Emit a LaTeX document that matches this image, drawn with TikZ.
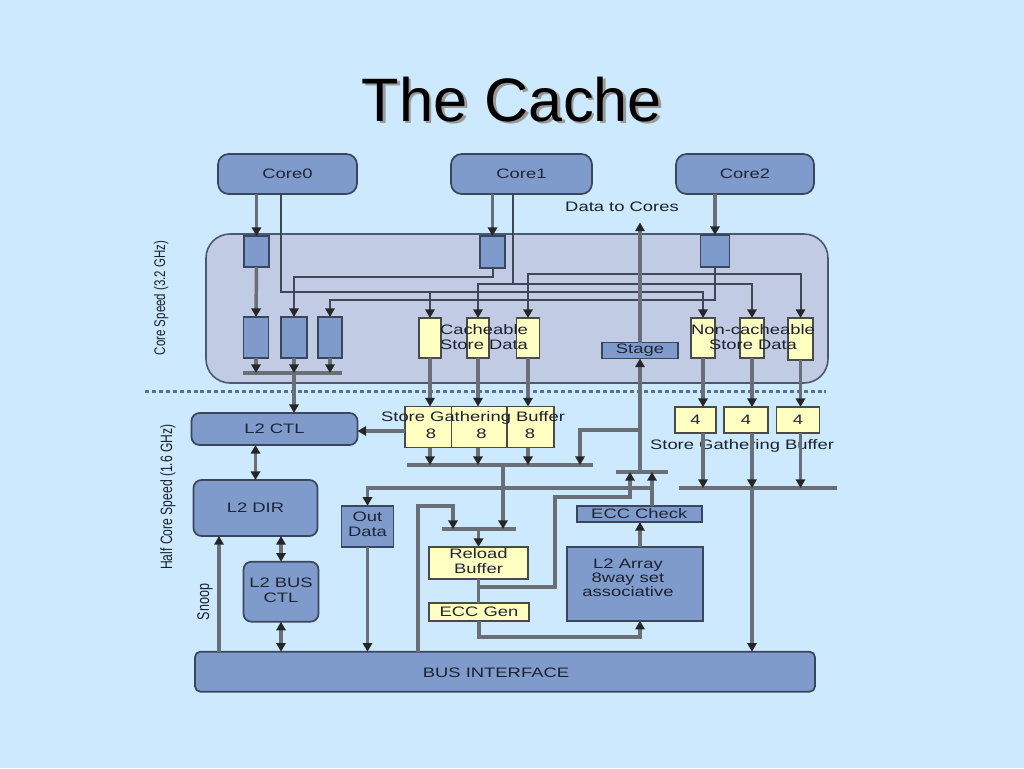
\documentclass[tikz,border=0pt]{standalone}
\usepackage{fontspec}
\usepackage{graphicx}
\setmainfont{Liberation Sans}
\usetikzlibrary{arrows.meta}
\definecolor{bg}{HTML}{CCE9FE}
\definecolor{boxblue}{HTML}{7F9BCC}
\definecolor{boxedge}{HTML}{3A465E}
\definecolor{regfill}{HTML}{C1CBE3}
\definecolor{regedge}{HTML}{4E586C}
\definecolor{yfill}{HTML}{FFFFC2}
\definecolor{yedge}{HTML}{4A4A4A}
\definecolor{wireA}{HTML}{3F4757}
\definecolor{wireB}{HTML}{6A6F77}
\definecolor{txt}{HTML}{1E2533}
\definecolor{dashc}{HTML}{5E7090}
\newcommand\sx[1]{\scalebox{1.34}[1]{#1}}
\newcommand\tl[1]{\sx{\begin{tabular}{@{}c@{}}#1\end{tabular}}}
\begin{document}
\begin{tikzpicture}[x=0.75pt,y=-0.75pt,
  >={Triangle[width=7pt,length=6.5pt,color=black!85]},
  wh/.style 2 args={minimum width=#1*0.75pt, minimum height=#2*0.75pt},
  bfont/.style={font=\fontsize{10.3}{11.25}\selectfont},
  bluebox/.style={draw=boxedge, fill=boxblue, line width=1.3pt, inner sep=0pt, outer sep=0pt, text=txt, bfont},
  rbox/.style={bluebox, rounded corners=6pt},
  ybox/.style={draw=yedge, fill=yfill, line width=1.3pt, inner sep=0pt, outer sep=0pt, text=txt, bfont},
  lbl/.style={inner sep=0pt, text=txt!90!black, bfont},
  wa/.style={draw=wireA, line width=1.5pt},
  wb/.style={draw=wireB, line width=2.6pt},
  bar/.style={draw=wireB, line width=2.4pt}
]
\fill[bg] (0,0) rectangle (1024,768);
\useasboundingbox (0,0) rectangle (1024,768);

% title
\node[text=black!40, font=\fontsize{46}{50}\selectfont, anchor=base, inner sep=0pt] (titleshadow) at (514.5,123.5) {The Cache};
\node[text=black, font=\fontsize{46}{50}\selectfont, anchor=base, inner sep=0pt] (title) at (512,121) {The Cache};

% core speed region
\node[draw=regedge, fill=regfill, line width=1.2pt, rounded corners=18pt, inner sep=0pt, wh={622}{149}] (creg) at (517,308.5) {};

% dashed divider
\coordinate (d1) at (145,391.5);
\coordinate (d2) at (826,391.5);
\draw[draw=dashc, line width=1.6pt, dash pattern=on 3pt off 2.2pt] (d1) -- (d2);

% cores
\node[rbox, rounded corners=8pt, wh={139}{40}] (core0) at (287.5,174) {\sx{Core0}};
\node[rbox, rounded corners=8pt, wh={141}{40}] (core1) at (521.5,174) {\sx{Core1}};
\node[rbox, rounded corners=8pt, wh={138}{40}] (core2) at (745,174) {\sx{Core2}};

% buffers
\node[bluebox, wh={25}{31}] (buf0) at (256.5,251.5) {};
\node[bluebox, wh={25}{32}] (buf1) at (492.5,252) {};
\node[bluebox, wh={29}{32}] (buf2) at (715,251) {};

\node[bluebox, wh={25}{41}] (b1) at (256,337.5) {};
\node[bluebox, wh={26}{41}] (b2) at (294,337.5) {};
\node[bluebox, wh={24}{41}] (b3) at (330,337.5) {};

\node[ybox, wh={22}{40}] (y1) at (430,338) {};
\node[ybox, wh={22}{40}] (y2) at (478,338) {};
\node[ybox, wh={23}{40}] (y3) at (528,338) {};

\node[ybox, wh={24}{40}] (n1) at (703,338) {};
\node[ybox, wh={24}{40}] (n2) at (752,338) {};
\node[ybox, wh={25}{42}] (n3) at (800.5,339) {};

\node[bluebox, wh={76}{16}] (stage) at (640,350.5) {\sx{Stage}};

\node[lbl] (cachelbl) at (484,338.5) {\sx{\begin{tabular}{@{}l@{}}Cacheable\\Store Data\end{tabular}}};
\node[lbl] (nclbl) at (753,339) {\tl{Non-cacheable\\Store Data}};

% store gathering buffers
\node[ybox, wh={47}{41}] (s1) at (428.5,427) {};
\node[ybox, wh={55}{41}] (s2) at (479,427) {};
\node[ybox, wh={47}{41}] (s3) at (530.5,427) {};
\node[lbl] (s1t) at (431,434) {\sx{8}};
\node[lbl] (s2t) at (481.5,434) {\sx{8}};
\node[lbl] (s3t) at (530,434) {\sx{8}};
\node[lbl] (sgbl) at (473,418) {\sx{Store Gathering Buffer}};

\node[ybox, wh={41}{26}] (f1) at (695.5,420) {\sx{4}};
\node[ybox, wh={44}{26}] (f2) at (746,420) {\sx{4}};
\node[ybox, wh={43}{26}] (f3) at (798,420) {\sx{4}};
\node[lbl] (sgbr) at (742,445.7) {\sx{Store Gathering Buffer}};

% lower blocks
\node[rbox, wh={166}{32}] (l2ctl) at (274.5,429) {\sx{L2 CTL}};
\node[rbox, wh={124}{56}] (l2dir) at (255.5,508) {\sx{L2 DIR}};
\node[rbox, wh={75}{60}] (l2bus) at (281,591.7) {\tl{L2 BUS\\CTL}};
\node[bluebox, wh={52}{41}] (outdata) at (367.5,526.3) {\tl{Out\\Data}};
\node[ybox, wh={99}{32}] (reload) at (478.5,563) {\tl{Reload\\Buffer}};
\node[ybox, wh={100}{18}] (eccgen) at (479,612) {\sx{ECC Gen}};
\node[bluebox, wh={136}{74}] (l2arr) at (635,583.7) {};
\node[lbl, font=\fontsize{10.3}{10.5}\selectfont] (l2arrt) at (628,580) {\tl{L2 Array\\8way set\\associative}};
\node[bluebox, wh={125}{16}] (ecccheck) at (639.3,514) {\sx{ECC Check}};
\node[rbox, rounded corners=4pt, wh={620}{40}] (bus) at (505,671.7) {};
\node[lbl] (bust) at (496,673) {\sx{BUS INTERFACE}};

% side labels
\node[lbl, rotate=90, font=\fontsize{8.6}{9}\selectfont] (cslbl) at (161,298) {\scalebox{1}[1.35]{Core Speed (3.2 GHz)}};
\node[lbl, rotate=90, font=\fontsize{9.1}{10}\selectfont] (hcslbl) at (168,497) {\scalebox{1}[1.35]{Half Core Speed (1.6 GHz)}};
\node[lbl, rotate=90, font=\fontsize{9.4}{10}\selectfont] (snooplbl) at (205,602) {\scalebox{1}[1.35]{Snoop}};
\node[lbl] (dtclbl) at (622,207) {\sx{Data to Cores}};

% ---- top wiring ----
\draw[wb,->] (core0.south -| buf0.north) -- (buf0.north);
\draw[wb,->] (core1.south -| buf1.north) -- (buf1.north);
\draw[wb,->] (core2.south -| buf2.north) -- (buf2.north);
\draw[wb,->] (buf0.south) -- (b1.north);

\coordinate (j0) at (281,292);
\draw[wa,->] (core0.south -| j0) -- (j0) -| (n1.north);
\draw[wa,->] (y1.north |- j0) -- (y1.north);

\coordinate (j1) at (513,284);
\draw[wa] (core1.south -| j1) -- (j1);
\draw[wa,->] (j1) -| (y2.north);
\draw[wa,->] (j1) -| (n2.north);

\draw[wa,->] (buf1.south) -- ++(0,9) -| (b2.north);
\draw[wa,->] (buf2.south) -- ++(0,33) -| (b3.north);

\coordinate (j2) at (715,274);
\draw[wa,->] (j2) -| (y3.north);
\draw[wa,->] (j2) -| (n3.north);

% bar A
\coordinate (barA) at (243,373);
\coordinate (barAe) at (342,373);
\draw[bar] (barA) -- (barAe);
\foreach \b in {b1,b2,b3} \draw[wb,->] (\b.south) -- (\b.south |- barA);
\draw[wb,->] (b2.south |- barA) -- (b2.south |- l2ctl.north);

% cacheable / non-cacheable down
\draw[wb,->] (y1.south) -- (y1.south |- s1.north);
\draw[wb,->] (y2.south) -- (y2.south |- s2.north);
\draw[wb,->] (y3.south) -- (y3.south |- s3.north);
\draw[wb,->] (n1.south) -- (n1.south |- f1.north);
\draw[wb,->] (n2.south) -- (n2.south |- f2.north);
\draw[wb,->] (n3.south) -- (n3.south |- f3.north);

% SGB outputs
\coordinate (barB) at (407,465);
\coordinate (barBe) at (593,465);
\draw[bar] (barB) -- (barBe);
\draw[wb,->] (y1.south |- s1.south) -- (y1.south |- barB);
\draw[wb,->] (y2.south |- s2.south) -- (y2.south |- barB);
\draw[wb,->] (y3.south |- s3.south) -- (y3.south |- barB);

\coordinate (sl) at (405,431);
\draw[wb,->] (sl) -- (sl -| l2ctl.east);

% stage
\coordinate (barC) at (616,472);
\coordinate (barCe) at (668,472);
\draw[bar] (barC) -- (barCe);
\draw[wb,->] (stage.north) -- ++(0,-120) coordinate (dtc);
\draw[wb,->] (stage.south |- barC) -- (stage.south);
\coordinate (jb) at (640,430);
\coordinate (kb) at (580,465);
\draw[wb,->] (jb) -| (kb);

% reload path
\coordinate (barD) at (442,529);
\coordinate (barDe) at (516,529);
\draw[bar] (barD) -- (barDe);
\coordinate (kd) at (503,465);
\draw[wb,->] (kd) -- (kd |- barD);
\coordinate (ke) at (418,506);
\coordinate (kf) at (453,529);
\draw[wb,->] (bus.north -| ke) -- (ke) -| (kf);
\draw[wb,->] (reload.north |- barD) -- (reload.north);
\draw[wb] (reload.south) -- (reload.south |- eccgen.north);
\coordinate (kg) at (478.5,587);
\coordinate (ki) at (555,497);
\coordinate (kh) at (630,472);
\draw[wb,->] (kg) -| (ki) -| (kh);

% ECC gen -> L2 array -> ECC check
\coordinate (ax) at (640,0);
\draw[wb,->] (eccgen.south) -- ++(0,16) -| (l2arr.south -| ax);
\draw[wb,->] (l2arr.north -| ax) -- (ecccheck.south -| ax);
\coordinate (kl) at (652,472);
\draw[wb,->] (ecccheck.north -| kl) -- (kl);
\coordinate (km) at (652,488);
\draw[wb,->] (km) -| (outdata.north);
\draw[wb,->] (outdata.south) -- (outdata.south |- bus.north);

% right SGB outputs
\coordinate (barE) at (679,488);
\coordinate (barEe) at (837,488);
\draw[bar] (barE) -- (barEe);
\draw[wb,->] (n1.south |- f1.south) -- (n1.south |- barE);
\draw[wb,->] (n2.south |- f2.south) -- (n2.south |- barE);
\draw[wb,->] (n3.south |- f3.south) -- (n3.south |- barE);
\draw[wb,->] (n2.south |- barE) -- (n2.south |- bus.north);

% left column
\draw[wb,<->] (l2ctl.south -| l2dir.north) -- (l2dir.north);
\draw[wb,<->] (l2bus.north |- l2dir.south) -- (l2bus.north);
\draw[wb,<->] (l2bus.south) -- (l2bus.south |- bus.north);
\coordinate (sn) at (219,0);
\draw[wb,->] (bus.north -| sn) -- (l2dir.south -| sn);
\end{tikzpicture}
\end{document}
